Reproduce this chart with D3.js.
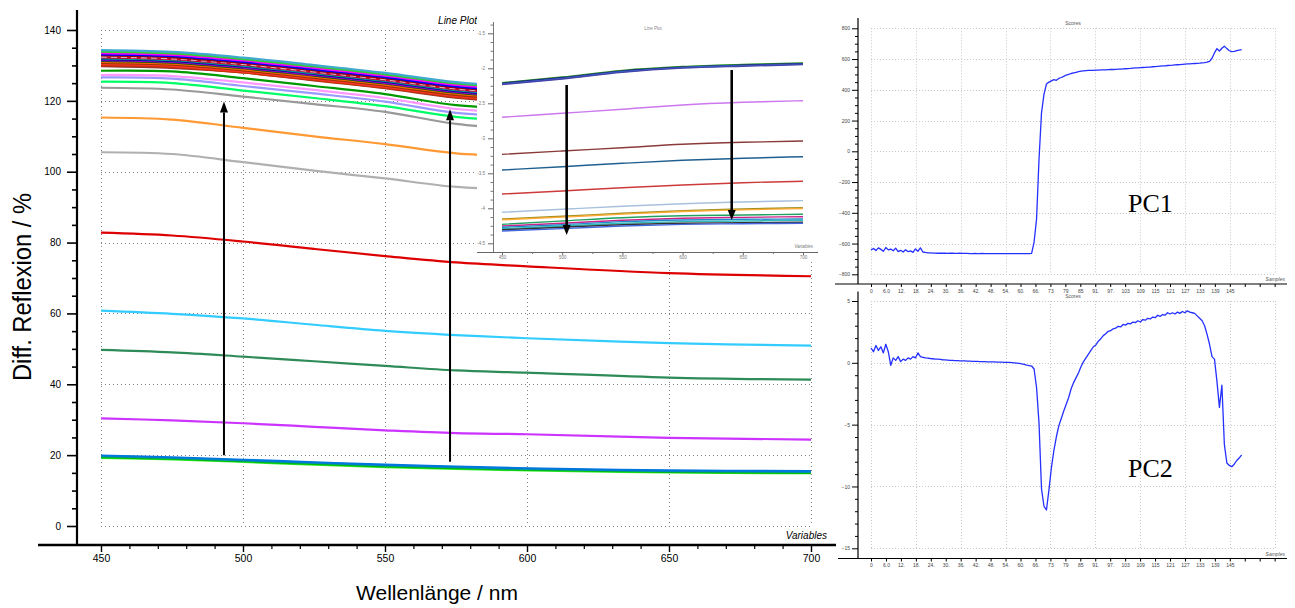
<!DOCTYPE html>
<html>
<head>
<meta charset="utf-8">
<script src="https://cdn.jsdelivr.net/npm/d3@7"></script>
<style>
  html, body { margin: 0; padding: 0; background: #fff; }
  svg { display: block; font-family: "Liberation Sans", Arial, sans-serif; }
</style>
</head>
<body>
<svg id="fig" width="1295" height="608"></svg>
<script>
// ---------- main spectra: differential reflexion vs wavelength ----------
const wavelengths = [450, 475, 500, 525, 550, 575, 600, 650, 700];
const mainYTicks = [0, 20, 40, 60, 80, 100, 120, 140];
const mainXTicks = [450, 500, 550, 600, 650, 700];

const spectraColors = [
  "#33ee33", "#00bb00", "#009999", "#0077dd",
  "#cc33ff", "#2e8b57", "#33ccff", "#dd0000",
  "#b0b0b0", "#ff9933", "#999999", "#00ff66", "#9999ff", "#ff99ff", "#009900",
  "#993333", "#cc3300", "#ff3333", "#993300", "#ff6600", "#006600", "#9900cc",
  "#000099", "#009999", "#cc0033", "#d9b3bf", "#990000", "#0000ff", "#ff00ff",
  "#33cc33", "#3fa9d0"
];
const spectraDashed = [25];
const spectra = [
  [19.2, 18.8, 18.1, 17.3, 16.6, 16.1, 15.7, 15.1, 14.9],
  [19.4, 19.0, 18.3, 17.5, 16.8, 16.3, 15.9, 15.3, 15.0],
  [19.7, 19.2, 18.5, 17.8, 17.1, 16.6, 16.1, 15.5, 15.3],
  [19.9, 19.4, 18.7, 18.0, 17.3, 16.8, 16.3, 15.7, 15.5],
  [30.4, 29.8, 29.0, 28.0, 27.0, 26.2, 25.9, 24.9, 24.4],
  [49.7, 49.0, 47.8, 46.5, 45.2, 43.9, 43.3, 41.9, 41.3],
  [60.8, 59.9, 58.6, 56.8, 55.1, 53.9, 53.0, 51.6, 50.9],
  [82.8, 82.0, 80.3, 78.2, 76.2, 74.4, 73.3, 71.4, 70.5],
  [105.5, 105.0, 102.7, 100.3, 98.1, 95.7, 95.0, 94.8, 94.7],
  [115.3, 114.7, 112.4, 110.0, 107.8, 105.2, 104.4, 104.2, 104.1],
  [123.7, 123.2, 121.2, 119.1, 116.9, 113.5, 112.0, 110.8, 110.3],
  [125.4, 125.0, 122.9, 120.8, 118.5, 115.5, 114.3, 112.9, 112.2],
  [126.6, 126.3, 124.2, 122.1, 119.8, 116.6, 115.6, 114.0, 113.3],
  [127.3, 127.0, 125.2, 123.1, 120.8, 117.7, 116.6, 115.0, 114.2],
  [128.5, 128.3, 126.4, 124.2, 121.9, 118.8, 117.8, 116.2, 115.5],
  [129.8, 129.3, 128.0, 125.8, 123.6, 120.9, 119.5, 117.9, 117.1],
  [130.1, 129.6, 128.0, 125.9, 123.7, 121.1, 119.7, 118.0, 117.2],
  [130.4, 129.9, 128.3, 126.2, 124.0, 121.4, 120.0, 118.3, 117.5],
  [130.7, 130.2, 128.6, 126.5, 124.3, 121.7, 120.3, 118.6, 117.8],
  [131.0, 130.5, 128.9, 126.8, 124.6, 122.0, 120.6, 118.9, 118.1],
  [131.3, 130.8, 129.2, 127.1, 124.9, 122.3, 120.9, 119.2, 118.4],
  [131.5, 131.0, 129.4, 127.3, 125.1, 122.5, 121.1, 119.4, 118.6],
  [131.8, 131.3, 129.7, 127.6, 125.4, 122.8, 121.4, 119.7, 118.9],
  [132.0, 131.5, 129.9, 127.8, 125.6, 123.0, 121.6, 119.9, 119.1],
  [132.3, 131.8, 130.2, 128.1, 125.9, 123.3, 121.9, 120.2, 119.4],
  [132.5, 132.0, 130.4, 128.3, 126.1, 123.5, 122.1, 120.4, 119.6],
  [132.8, 132.3, 130.7, 128.6, 126.4, 123.8, 122.4, 120.7, 119.9],
  [133.1, 132.6, 131.0, 128.9, 126.7, 124.1, 122.7, 121.0, 120.2],
  [133.5, 133.0, 131.4, 129.3, 127.1, 124.5, 123.1, 121.4, 120.6],
  [133.9, 133.4, 131.8, 129.7, 127.5, 124.9, 123.5, 121.8, 121.0],
  [134.3, 133.8, 132.2, 130.1, 127.9, 125.3, 123.9, 122.2, 121.4]
];
// arrows marking the increase of reflexion over time
const arrowWavelengths = [493.3, 572.9];
const arrowStart = [20.0, 18.1];
const arrowEnd = [119.8, 117.6];

// ---------- inset: loadings line plot ----------
const insetWavelengths = [450, 500, 550, 600, 650, 700];
const insetXTicks = [450, 500, 550, 600, 650, 700];
const insetYTicks = [-1.5, -2, -2.5, -3, -3.5, -4, -4.5];
const insetColors = [
  "#a09020", "#ffaa33", "#a8c0dc", "#cc3a3a", "#1f5f8f", "#8b3a3a", "#cc77ee",
  "#20a060", "#cc2288", "#2288cc", "#33bbbb", "#333333", "#4466dd",
  "#66cc66", "#2a8a2a", "#1a1a80", "#3a6ad0", "#4444aa"
];
const insetSpectra = [
  [-4.153, -4.114, -4.071, -4.034, -4.010, -3.991],
  [-4.165, -4.126, -4.083, -4.046, -4.022, -4.003],
  [-4.057, -4.014, -3.971, -3.934, -3.910, -3.891],
  [-3.796, -3.753, -3.706, -3.667, -3.634, -3.614],
  [-3.453, -3.406, -3.357, -3.314, -3.286, -3.263],
  [-3.229, -3.181, -3.134, -3.086, -3.057, -3.039],
  [-2.700, -2.643, -2.586, -2.524, -2.486, -2.463],
  [-4.229, -4.181, -4.134, -4.106, -4.096, -4.086],
  [-4.253, -4.214, -4.171, -4.143, -4.129, -4.120],
  [-4.271, -4.234, -4.191, -4.167, -4.157, -4.153],
  [-4.291, -4.253, -4.214, -4.191, -4.181, -4.171],
  [-4.306, -4.271, -4.234, -4.214, -4.206, -4.200],
  [-4.324, -4.291, -4.253, -4.229, -4.220, -4.214],
  [-2.210, -2.130, -2.038, -1.980, -1.950, -1.930],
  [-2.205, -2.125, -2.030, -1.975, -1.945, -1.925],
  [-2.215, -2.135, -2.040, -1.985, -1.955, -1.935],
  [-2.225, -2.145, -2.050, -1.990, -1.962, -1.940],
  [-2.232, -2.152, -2.058, -1.998, -1.970, -1.948]
];
const insetArrowWavelengths = [503.7, 640.8];
const insetArrowStart = [-2.239, -2.024];
const insetArrowEnd = [-4.381, -4.167];

// ---------- PCA scores over the sample sequence ----------
const pcTickStep = 6.05;
const pcTickLabels = ["0", "6.0", "12.", "18.", "24.", "30.", "36.", "42.", "48.", "54.", "60.",
  "66.", "73", "79", "85", "91.", "97.", "103", "109", "115", "121", "127", "133", "139", "145"];
const pc1Ticks = [-800, -600, -400, -200, 0, 200, 400, 600, 800];
const pc2Ticks = [-15, -10, -5, 0, 5];
const pc1Scores = [
  -641, -632, -645, -628, -638, -650, -626, -641, -636, -647, -630, -652, -644, -655, -640, -653,
  -648, -657, -635, -650, -628, -655,
  -658, -660, -661,
  -662, -662, -663, -662, -663, -663, -664, -663, -663, -664, -664, -663, -664, -664, -664, -665,
  -665, -664, -665, -665, -664, -665, -665, -665, -666, -665, -665, -665, -666, -665, -665, -666,
  -665, -665, -666, -666, -665, -666, -666, -666,
  -664, -590, -440, -50, 250, 370, 438,
  450, 458, 466, 462, 474, 480, 487, 496, 501, 506, 510, 514, 518, 521, 523,
  525, 526, 526, 527, 528, 528, 529, 530, 530, 531, 532, 532, 533, 534,
  535, 536, 537, 538, 539, 541, 542, 543, 544, 545, 546, 547, 548, 550, 551, 553, 554, 555, 556,
  558, 559, 560, 562, 563, 564, 566, 567, 568, 569, 570, 571, 572, 573,
  575, 577, 580, 585, 605, 640, 668, 652, 670, 684, 668, 654, 648, 650, 655, 658, 661
];
const pc2Scores = [
  1.2, 0.9, 1.4, 1.0, 1.3, 0.8, 1.5, 0.9,
  -0.2, 0.4, 0.2, 0.5, 0.1, 0.3, 0.2, 0.4, 0.3, 0.5, 0.4, 0.8, 0.5, 0.45, 0.4, 0.38, 0.35,
  0.33, 0.3, 0.3, 0.28, 0.25, 0.24, 0.22, 0.2, 0.2, 0.18, 0.17, 0.16, 0.15, 0.15, 0.14, 0.13,
  0.12, 0.12, 0.11, 0.1, 0.1, 0.09, 0.08, 0.08, 0.07, 0.07, 0.06, 0.05, 0.05, 0.04, 0.03, 0.03,
  0.02, 0.0, -0.02, -0.05, -0.08, -0.12, -0.18, -0.22,
  -0.26, -0.5, -2.0, -4.9, -10.2, -11.6, -11.9, -10.3, -8.5, -7.1, -6.0, -5.1, -4.5, -3.9, -3.35,
  -2.8, -2.1, -1.6, -1.2, -0.8, -0.3, 0.1, 0.4, 0.7, 1.0, 1.3,
  1.45, 1.75, 1.95, 2.2, 2.35, 2.55, 2.6, 2.75, 2.8, 2.95, 2.9, 3.1, 3.05, 3.2, 3.15, 3.3, 3.25,
  3.4, 3.3, 3.5, 3.45, 3.6, 3.55, 3.7, 3.65, 3.85, 3.75, 3.9, 3.85, 4.05, 3.95, 4.05, 3.95, 4.1,
  4.0, 4.15, 4.05, 4.2, 4.1, 4.05, 4.0, 3.8, 3.6,
  3.4, 3.0, 2.3, 1.5, 0.5, 0.3, -1.5, -3.6, -1.8, -6.6, -8.1, -8.3, -8.4, -8.2, -7.9, -7.7, -7.45
];

// ======================================================================
const svg = d3.select("#fig");
const crisp = v => Math.round(v) + 0.5;

function drawArrow(g, x, yFrom, yTip, width, halfHead, headLen) {
  const dir = yTip < yFrom ? -1 : 1;
  const base = yTip - dir * headLen;
  g.append("line")
    .attr("x1", x).attr("x2", x).attr("y1", yFrom).attr("y2", base)
    .attr("stroke", "#000").attr("stroke-width", width);
  g.append("path")
    .attr("d", `M${x},${yTip}L${x - halfHead},${base}L${x + halfHead},${base}Z`)
    .attr("fill", "#000");
}

// ---------------- main chart ----------------
const xMain = d3.scaleLinear().domain([450, 700]).range([101, 811]);
const yMain = d3.scaleLinear().domain([0, 140]).range([526, 30]);
const gMain = svg.append("g");

// dotted grid
gMain.append("g").selectAll("line").data(mainYTicks).join("line")
  .attr("x1", xMain(450)).attr("x2", xMain(700))
  .attr("y1", d => crisp(yMain(d))).attr("y2", d => crisp(yMain(d)))
  .attr("stroke", "#808080").attr("stroke-dasharray", "1,3");
gMain.append("g").selectAll("line").data(mainXTicks).join("line")
  .attr("x1", d => crisp(xMain(d))).attr("x2", d => crisp(xMain(d)))
  .attr("y1", yMain(140)).attr("y2", yMain(0))
  .attr("stroke", "#808080").attr("stroke-dasharray", "1,3");

// spectra
const mainLine = d3.line()
  .x((d, i) => xMain(wavelengths[i]))
  .y(d => yMain(d))
  .curve(d3.curveCatmullRom.alpha(0.5));
gMain.append("g").attr("fill", "none").selectAll("path").data(spectra).join("path")
  .attr("d", mainLine)
  .attr("stroke", (d, i) => spectraColors[i])
  .attr("stroke-width", 2.2)
  .attr("stroke-dasharray", (d, i) => spectraDashed.includes(i) ? "6,4" : null);

// arrows
const gArrows = gMain.append("g");
arrowWavelengths.forEach((w, i) => {
  drawArrow(gArrows, xMain(w), yMain(arrowStart[i]), yMain(arrowEnd[i]), 2, 4, 11);
});

// axes
const yMinorMain = d3.range(0, 141, 5).filter(v => v % 20 !== 0);
const gYMain = gMain.append("g").attr("transform", "translate(77,0)")
  .call(d3.axisLeft(yMain).tickValues(mainYTicks).tickSize(10).tickPadding(6));
gYMain.select(".domain").remove();
gYMain.selectAll("line").attr("stroke-width", 1.6);
gYMain.selectAll("text").attr("font-size", 10).attr("font-family", "Liberation Sans, Arial, sans-serif");
const gYMinor = gMain.append("g").attr("transform", "translate(77,0)")
  .call(d3.axisLeft(yMain).tickValues(yMinorMain).tickSize(5).tickFormat(""));
gYMinor.select(".domain").remove();
gYMinor.selectAll("line").attr("stroke-width", 1.6);
gMain.append("line").attr("x1", 77).attr("x2", 77).attr("y1", 10).attr("y2", 546)
  .attr("stroke", "#000").attr("stroke-width", 2.2);

const xMinorMain = d3.range(460, 700, 10).filter(v => v % 50 !== 0);
const gXMain = gMain.append("g").attr("transform", "translate(0,545)")
  .call(d3.axisBottom(xMain).tickValues(mainXTicks).tickSize(7).tickPadding(3));
gXMain.select(".domain").remove();
gXMain.selectAll("line").attr("stroke-width", 1.4);
gXMain.selectAll("text").attr("font-size", 10.5).attr("font-family", "Liberation Sans, Arial, sans-serif");
const gXMinor = gMain.append("g").attr("transform", "translate(0,545)")
  .call(d3.axisBottom(xMain).tickValues(xMinorMain).tickSize(4).tickFormat(""));
gXMinor.select(".domain").remove();
gXMinor.selectAll("line").attr("stroke-width", 1.2);
gMain.append("line").attr("x1", 38).attr("x2", 836).attr("y1", 545).attr("y2", 545)
  .attr("stroke", "#000").attr("stroke-width", 2.6);

// titles
gMain.append("text").attr("x", 477).attr("y", 24).attr("text-anchor", "end")
  .attr("font-size", 10).attr("font-style", "italic").text("Line Plot");
gMain.append("text").attr("x", 827).attr("y", 539).attr("text-anchor", "end")
  .attr("font-size", 10).attr("font-style", "italic").text("Variables");
gMain.append("text").attr("x", 437).attr("y", 600).attr("text-anchor", "middle")
  .attr("font-size", 21).text("Wellenlänge / nm");
gMain.append("text")
  .attr("transform", "translate(31,287) rotate(-90)")
  .attr("text-anchor", "middle").attr("font-size", 25)
  .attr("textLength", 188).attr("lengthAdjust", "spacingAndGlyphs")
  .text("Diff. Reflexion / %");

// ---------------- inset ----------------
const gIn = svg.append("g");
gIn.append("rect").attr("x", 477).attr("y", 15).attr("width", 345).attr("height", 244).attr("fill", "#fff");
const xIn = d3.scaleLinear().domain([450, 700]).range([502, 803]);
const yIn = d3.scaleLinear().domain([-1.5, -4.5]).range([33.3, 243.3]);

const insetLine = d3.line()
  .x((d, i) => xIn(insetWavelengths[i]))
  .y(d => yIn(d))
  .curve(d3.curveMonotoneX);
gIn.append("g").attr("fill", "none").selectAll("path").data(insetSpectra).join("path")
  .attr("d", insetLine)
  .attr("stroke", (d, i) => insetColors[i])
  .attr("stroke-width", 1.4);

insetArrowWavelengths.forEach((w, i) => {
  drawArrow(gIn, xIn(w), yIn(insetArrowStart[i]), yIn(insetArrowEnd[i]), 2.6, 4, 10);
});

const insetYMinor = d3.range(11, 38).map(k => -k * 0.125).filter(v => Math.abs(v * 2 - Math.round(v * 2)) > 1e-6);
const gInY = gIn.append("g").attr("transform", "translate(493,0)")
  .call(d3.axisLeft(yIn).tickValues(insetYTicks).tickSize(5).tickPadding(3).tickFormat(d => String(d)));
gInY.select(".domain").remove();
gInY.selectAll("line").attr("stroke", "#666");
gInY.selectAll("text").attr("font-size", 4.5).attr("fill", "#777");
const gInYMinor = gIn.append("g").attr("transform", "translate(493,0)")
  .call(d3.axisLeft(yIn).tickValues(insetYMinor).tickSize(2.5).tickFormat(""));
gInYMinor.select(".domain").remove();
gInYMinor.selectAll("line").attr("stroke", "#777");
gIn.append("line").attr("x1", 493.5).attr("x2", 493.5).attr("y1", 22).attr("y2", 252)
  .attr("stroke", "#777").attr("stroke-width", 1);

const gInX = gIn.append("g").attr("transform", "translate(0,252)")
  .call(d3.axisBottom(xIn).tickValues(insetXTicks).tickSize(3).tickPadding(1));
gInX.select(".domain").remove();
gInX.selectAll("line").attr("stroke", "#666");
gInX.selectAll("text").attr("font-size", 4.5).attr("fill", "#777");
const gInXMinor = gIn.append("g").attr("transform", "translate(0,252)")
  .call(d3.axisBottom(xIn).tickValues([475, 525, 575, 625, 675]).tickSize(2).tickFormat(""));
gInXMinor.select(".domain").remove();
gInXMinor.selectAll("line").attr("stroke", "#777");
gIn.append("line").attr("x1", 477).attr("x2", 818).attr("y1", 252.5).attr("y2", 252.5)
  .attr("stroke", "#666").attr("stroke-width", 1.2);

gIn.append("text").attr("x", 653).attr("y", 30).attr("text-anchor", "middle")
  .attr("font-size", 4.5).attr("fill", "#888").text("Line Plot");
gIn.append("text").attr("x", 813).attr("y", 248).attr("text-anchor", "end")
  .attr("font-size", 4.5).attr("font-style", "italic").attr("fill", "#777").text("Variables");

// ---------------- PCA score panels ----------------
const xPC = d3.scaleLinear().domain([0, 24 * pcTickStep]).range([871, 1229.8]);
const pcTicks = d3.range(28).map(i => i * pcTickStep);
const pcGridTicks = pcTicks.filter((d, i) => i % 3 === 0);

function scorePanel(cfg) {
  const g = svg.append("g");
  const y = cfg.y;
  const [yLo, yHi] = y.domain();
  // grid
  g.append("g").selectAll("line").data(cfg.ticks).join("line")
    .attr("x1", xPC(0)).attr("x2", xPC(pcGridTicks[pcGridTicks.length - 1]))
    .attr("y1", d => crisp(y(d))).attr("y2", d => crisp(y(d)))
    .attr("stroke", "#c8c8c8").attr("stroke-dasharray", "1,2");
  g.append("g").selectAll("line").data(pcGridTicks).join("line")
    .attr("x1", d => crisp(xPC(d))).attr("x2", d => crisp(xPC(d)))
    .attr("y1", y(yHi)).attr("y2", y(yLo))
    .attr("stroke", "#c8c8c8").attr("stroke-dasharray", "1,2");

  // score trace
  const line = d3.line().x((d, i) => xPC(i)).y(d => y(d));
  g.append("path").datum(cfg.scores).attr("d", line)
    .attr("fill", "none").attr("stroke", "#2430ff").attr("stroke-width", 1.3)
    .attr("stroke-linejoin", "round");

  // y axis
  const gy = g.append("g").attr("transform", "translate(858,0)")
    .call(d3.axisLeft(y).tickValues(cfg.ticks).tickSize(6).tickPadding(2));
  gy.select(".domain").remove();
  gy.selectAll("text").attr("font-size", 5).attr("fill", "#444");
  const gyMinor = g.append("g").attr("transform", "translate(858,0)")
    .call(d3.axisLeft(y).tickValues(cfg.minor).tickSize(3).tickFormat(""));
  gyMinor.select(".domain").remove();
  g.append("line").attr("x1", 858).attr("x2", 858).attr("y1", cfg.axisTop).attr("y2", cfg.axisY)
    .attr("stroke", "#000").attr("stroke-width", 1.2);

  // x axis
  const gx = g.append("g").attr("transform", `translate(0,${cfg.axisY})`)
    .call(d3.axisBottom(xPC).tickValues(pcTicks).tickSize(3).tickPadding(2)
      .tickFormat((d, i) => pcTickLabels[i] || ""));
  gx.select(".domain").remove();
  gx.selectAll("text").attr("font-size", 5).attr("fill", "#444");
  g.append("line").attr("x1", cfg.axisLeft).attr("x2", 1287).attr("y1", cfg.axisY).attr("y2", cfg.axisY)
    .attr("stroke", "#000").attr("stroke-width", 1.2);

  g.append("text").attr("x", 1073).attr("y", cfg.titleY).attr("text-anchor", "middle")
    .attr("font-size", 5).attr("fill", "#555").text("Scores");
  g.append("text").attr("x", 1285).attr("y", cfg.axisY - 3).attr("text-anchor", "end")
    .attr("font-size", 5).attr("font-style", "italic").attr("fill", "#555").text("Samples");
  g.append("text").attr("x", 1128).attr("y", cfg.labelY)
    .attr("font-family", "Liberation Serif, Times New Roman, serif")
    .attr("font-size", 26).text(cfg.label);
}

scorePanel({
  y: d3.scaleLinear().domain([-800, 800]).range([274.3, 28.3]),
  ticks: pc1Ticks,
  minor: d3.range(-800, 801, 50).filter(v => v % 200 !== 0),
  scores: pc1Scores,
  axisTop: 18, axisY: 284, axisLeft: 835,
  titleY: 25, label: "PC1", labelY: 212
});
scorePanel({
  y: d3.scaleLinear().domain([-15, 5]).range([548.3, 301]),
  ticks: pc2Ticks,
  minor: d3.range(-15, 6, 1).filter(v => v % 5 !== 0),
  scores: pc2Scores,
  axisTop: 291.5, axisY: 558.5, axisLeft: 838,
  titleY: 298, label: "PC2", labelY: 477
});
</script>
</body>
</html>
